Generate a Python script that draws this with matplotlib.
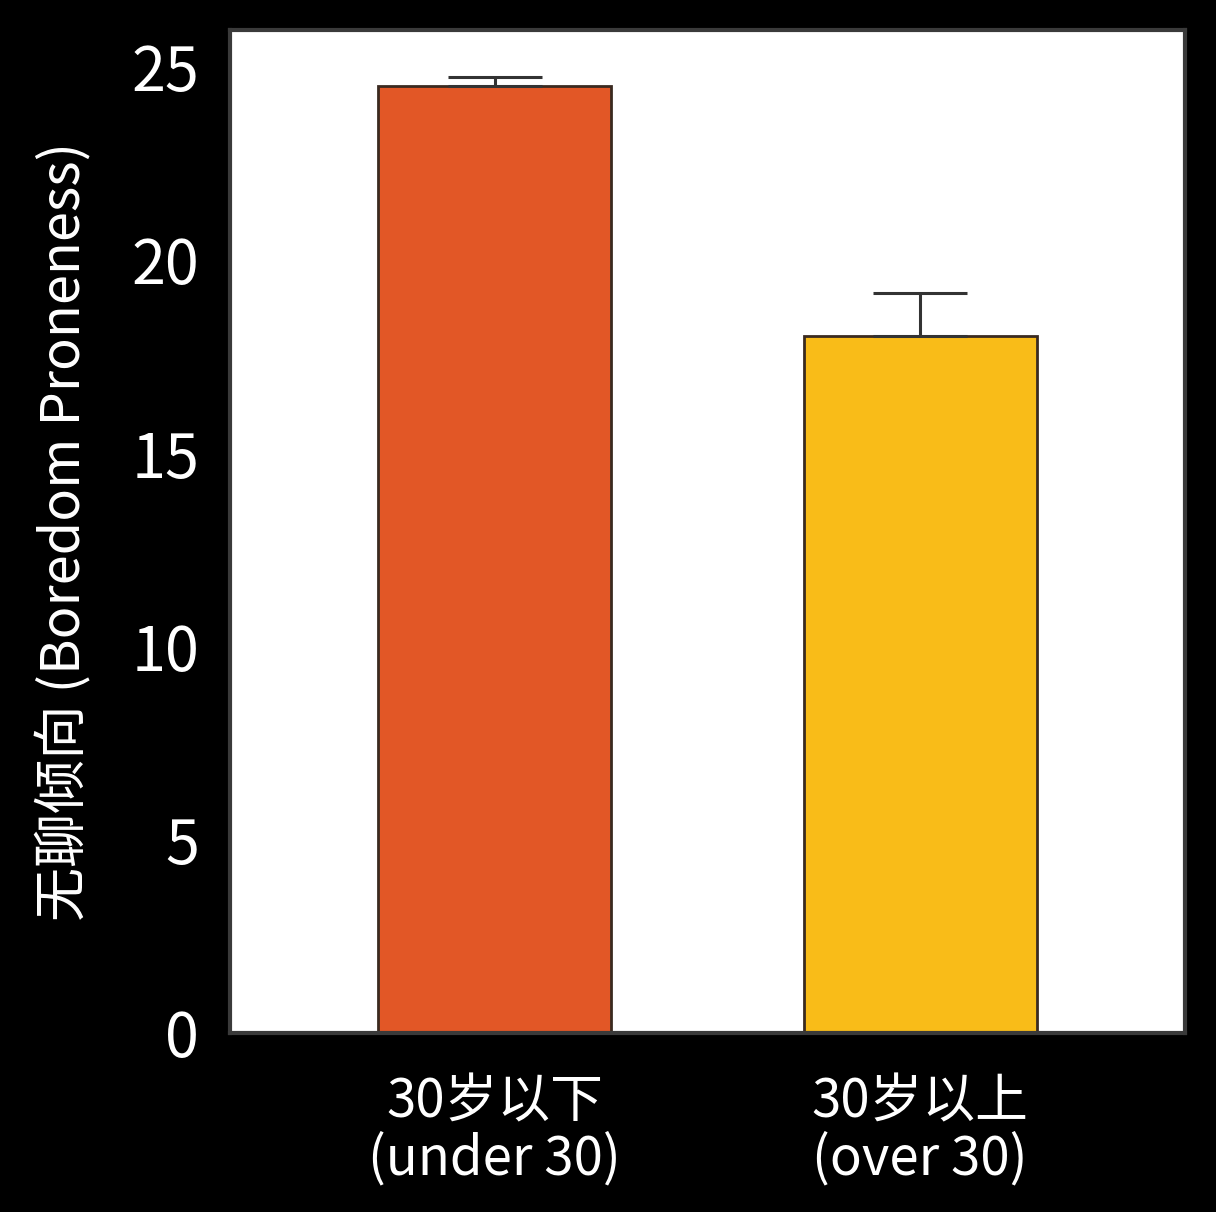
import numpy as np
import matplotlib.pyplot as plt

plt.rcParams['font.family'] = ['Noto Sans CJK SC', 'DejaVu Sans']

# data
groups = ['30岁以下\n(under 30)', '30岁以上\n(over 30)']
means = [24.5, 18.05]
errs = [0.25, 1.1]
colors = ['#E25726', '#F9BC18']
yticks = [0, 5, 10, 15, 20, 25]

fig = plt.figure(figsize=(12.16, 12.12), dpi=100, facecolor='black')
ax = fig.add_axes([0.189, 0.1477, 0.7855, 0.8273])
ax.set_facecolor('white')

x = np.arange(len(groups))
ax.bar(x, means, width=0.547, color=colors, edgecolor='#3a2a20', linewidth=2.0,
       zorder=2)
ax.errorbar(x, means, yerr=[[0, 0], errs], fmt='none', ecolor='#333333',
            elinewidth=2.2, capsize=34, capthick=2.2, zorder=3)

ax.set_xlim(-0.622, 1.622)
ax.set_ylim(0, 25.95)
ax.set_yticks(yticks)
ax.set_xticks(x)
ax.set_xticklabels(groups, linespacing=1.05)
ax.tick_params(axis='y', length=0, pad=22, labelsize=44, labelcolor='white')
ax.tick_params(axis='x', length=0, pad=30, labelsize=38, labelcolor='white')
for lab in ax.get_yticklabels() + ax.get_xticklabels():
    lab.set_fontweight('light')

for s in ax.spines.values():
    s.set_color('#3a3a3a')
    s.set_linewidth(3)

ax.set_ylabel('无聊倾向 (Boredom Proneness)', fontsize=39, color='white',
              fontweight='light', labelpad=28)

fig.savefig('out.png', dpi=100, facecolor='black')
